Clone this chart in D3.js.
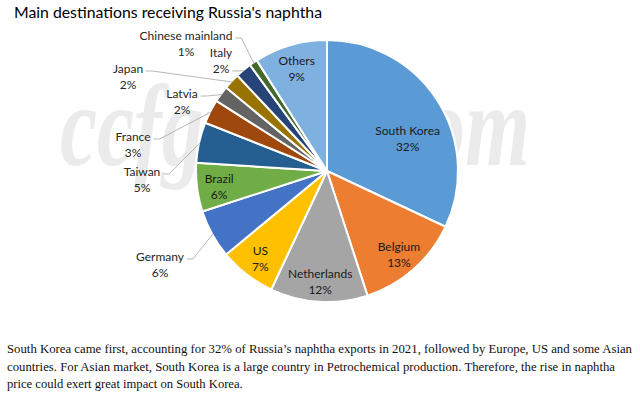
<!DOCTYPE html>
<html>
<head>
<meta charset="utf-8">
<script src="https://cdn.jsdelivr.net/npm/d3@7"></script>
<style>
  body { margin: 0; background: #fff; }
  svg { display: block; }
</style>
</head>
<body>
<svg id="chart"></svg>
<script>
// data (share of Russia's naphtha exports, %)
const countries = ["South Korea", "Belgium", "Netherlands", "US", "Germany", "Brazil",
  "Taiwan", "France", "Latvia", "Japan", "Italy", "Chinese mainland", "Others"];
const shares = [32, 13, 12, 7, 6, 6, 5, 3, 2, 2, 2, 1, 9];
const colors = ["#5b9bd5", "#ed7d31", "#a5a5a5", "#ffc000", "#4472c4", "#70ad47",
  "#255e91", "#9e480e", "#636363", "#997300", "#264478", "#43682b", "#7fb1e0"];
const insideNames = ["South Korea", "Belgium", "Netherlands", "US", "Brazil", "Others"];

const titleText = "Main destinations receiving Russia's naphtha";
const noteLines = [
  "South Korea came first, accounting for 32% of Russia\u2019s naphtha exports in 2021, followed by Europe, US and some Asian",
  "countries. For Asian market, South Korea is a large country in Petrochemical production. Therefore, the rise in naphtha",
  "price could exert great impact on South Korea."
];

const width = 640, height = 396;
const cx = 327, cy = 171, radius = 131;
const labelFont = "Lato, 'Noto Sans', sans-serif";

// where the outside labels sit, relative to the pie centre (layout only)
const outsideAt = {
  "Germany": [-167, 86],
  "Taiwan": [-185, 1],
  "France": [-194, -34],
  "Latvia": [-145, -77],
  "Japan": [-199, -102],
  "Italy": [-106, -118],
  "Chinese mainland": [-141, -135]
};
// widths the note lines fill in the picture
const noteWidths = [625, 608, null];

const svg = d3.select("#chart")
  .attr("width", width)
  .attr("height", height);

// faint watermark behind the pie
svg.append("text")
  .attr("transform", "translate(60,165) scale(1,1.5)")
  .attr("textLength", 470)
  .attr("lengthAdjust", "spacingAndGlyphs")
  .style("font-family", "'Liberation Serif', serif")
  .style("font-style", "italic")
  .style("font-weight", "bold")
  .style("font-size", "78px")
  .style("fill", "#ebebeb")
  .text("ccfgroup.com");

svg.append("text")
  .attr("x", 14)
  .attr("y", 18)
  .style("font-family", labelFont)
  .style("font-size", "15.8px")
  .style("fill", "#000")
  .text(titleText);

const data = countries.map((c, i) => ({ name: c, value: shares[i], color: colors[i] }));

const pie = d3.pie().sort(null).value(d => d.value);
const arcs = pie(data);

const arc = d3.arc().innerRadius(0).outerRadius(radius);

const g = svg.append("g").attr("transform", `translate(${cx},${cy})`);

g.selectAll("path.slice")
  .data(arcs)
  .join("path")
  .attr("class", "slice")
  .attr("d", arc)
  .attr("fill", d => d.data.color)
  .attr("stroke", "#fff")
  .attr("stroke-width", 2)
  .attr("stroke-linejoin", "round");

// labels inside the big slices
const inside = arcs.filter(d => insideNames.includes(d.data.name));
const inLab = g.selectAll("text.inside")
  .data(inside)
  .join("text")
  .attr("class", "inside")
  .attr("transform", d => {
    const r = d.data.value > 20 ? radius * 0.67 : radius * 0.83;
    const a = (d.startAngle + d.endAngle) / 2 + (d.data.value > 20 ? 0.16 : 0);
    return `translate(${Math.sin(a) * r},${-Math.cos(a) * r + 2})`;
  })
  .attr("text-anchor", "middle")
  .style("font-family", labelFont)
  .style("font-size", "12px")
  .style("fill", "#1a1a1a");
inLab.append("tspan").attr("x", 0).attr("y", -8).attr("dy", "0.35em").text(d => d.data.name);
inLab.append("tspan").attr("x", 0).attr("y", 8).attr("dy", "0.35em").text(d => d.data.value + "%");

// labels outside with leader lines
const outside = arcs.filter(d => !insideNames.includes(d.data.name));
const outG = g.selectAll("g.outside")
  .data(outside)
  .join("g")
  .attr("class", "outside");

const outText = outG.append("text")
  .attr("text-anchor", "middle")
  .style("font-family", labelFont)
  .style("font-size", "12px")
  .style("fill", "#262626");
outText.append("tspan")
  .attr("x", d => outsideAt[d.data.name][0])
  .attr("y", d => outsideAt[d.data.name][1])
  .attr("dy", "0.35em")
  .text(d => d.data.name);
outText.append("tspan")
  .attr("x", d => outsideAt[d.data.name][0])
  .attr("y", d => outsideAt[d.data.name][1] + 16)
  .attr("dy", "0.35em")
  .text(d => d.data.value + "%");

outG.each(function (d) {
  const el = d3.select(this);
  const tsp = el.selectAll("tspan").nodes();
  const [lx, ly] = outsideAt[d.data.name];
  // Italy connects from its percentage line, the others from the name line
  const useSecond = d.data.name === "Italy";
  const w = tsp[useSecond ? 1 : 0].getComputedTextLength();
  const sx = lx + w / 2 + 3;
  const sy = ly + (useSecond ? 16 : 0) + 2;
  const a = (d.startAngle + d.endAngle) / 2;
  const ex = Math.sin(a) * (radius - 1);
  const ey = -Math.cos(a) * (radius - 1);
  const pts = useSecond ? [[sx, sy], [ex, ey]] : [[sx, sy], [sx + 6, sy], [ex, ey]];
  el.append("path")
    .attr("d", d3.line()(pts))
    .attr("fill", "none")
    .attr("stroke", "#a6a6a6")
    .attr("stroke-width", 0.8);
});

// note under the chart
const note = svg.append("text")
  .style("font-family", "'Liberation Serif', 'Times New Roman', serif")
  .style("font-size", "12.6px")
  .style("fill", "#111");
note.selectAll("tspan")
  .data(noteLines)
  .join("tspan")
  .attr("x", 7)
  .attr("y", (d, i) => 353 + i * 17.5)
  .each(function (d, i) {
    if (noteWidths[i]) {
      d3.select(this)
        .attr("textLength", noteWidths[i])
        .attr("lengthAdjust", "spacingAndGlyphs");
    }
  })
  .text(d => d);
</script>
</body>
</html>
